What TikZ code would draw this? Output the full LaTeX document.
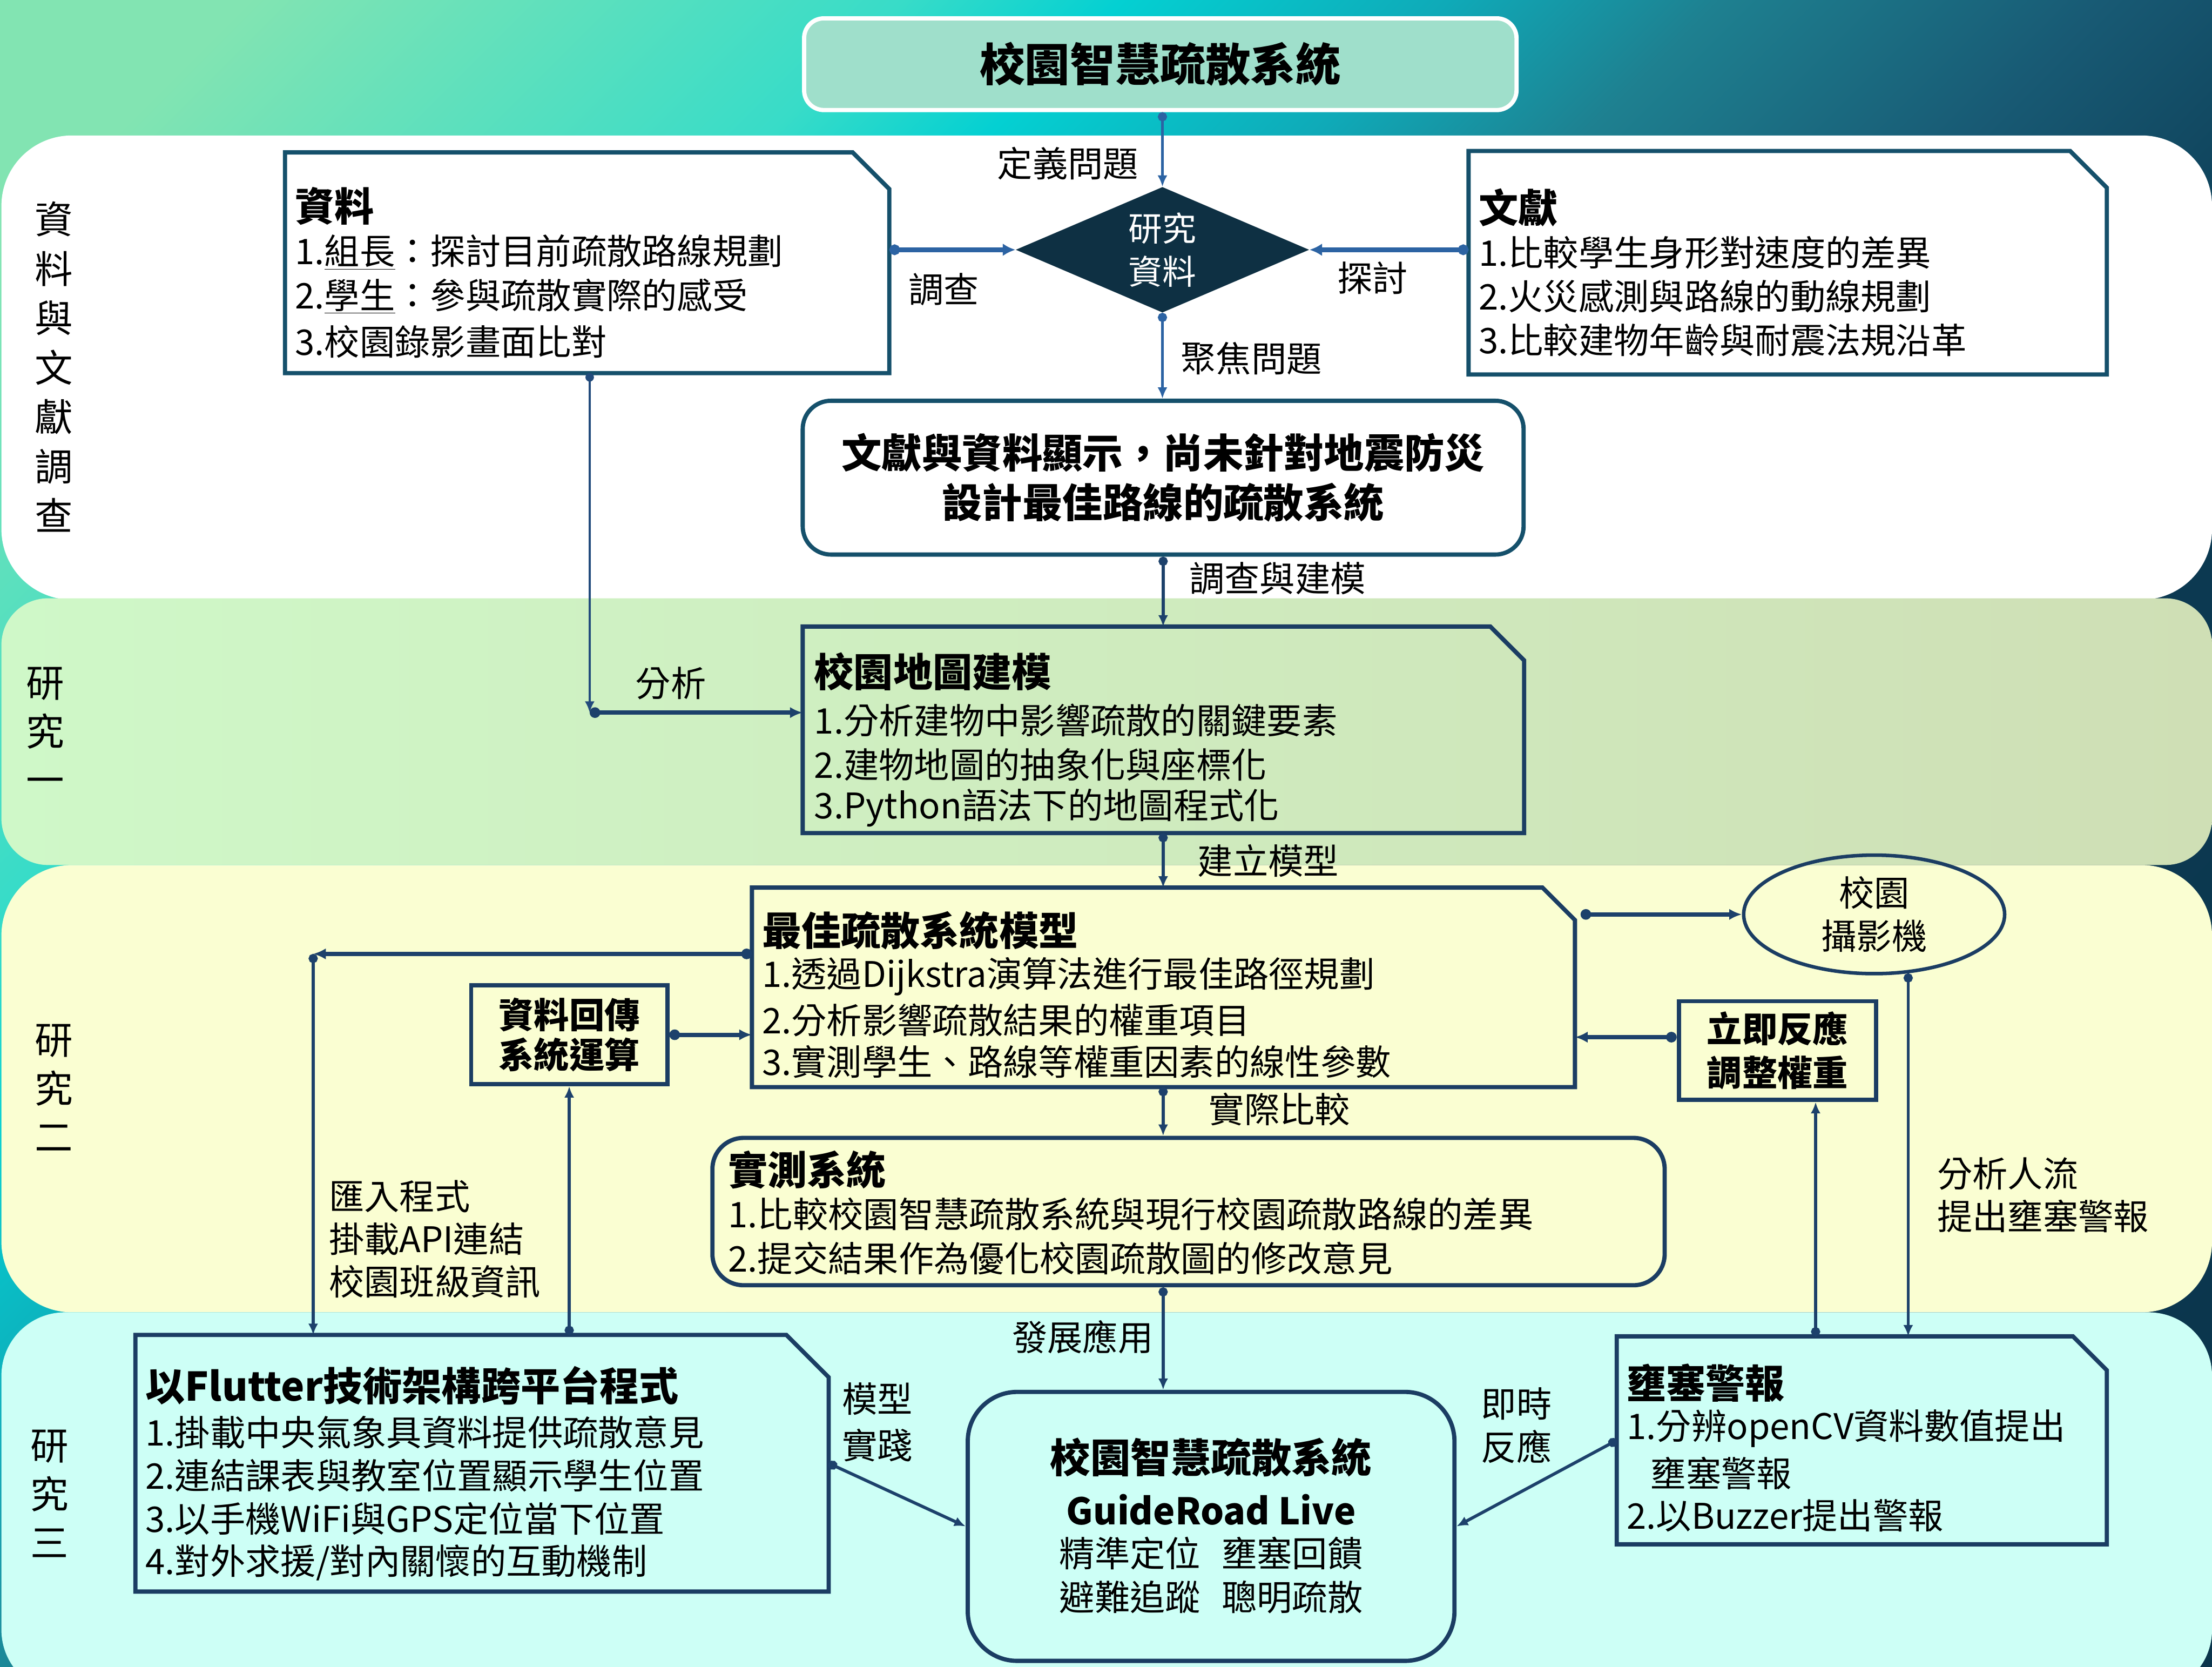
\documentclass[tikz,border=0pt]{standalone}
\usepackage{fontspec}
\setmainfont{Noto Sans CJK TC}
\usetikzlibrary{arrows.meta,shapes.geometric}
\definecolor{bg1}{HTML}{82E4B2}
\definecolor{bg2}{HTML}{38DCC8}
\definecolor{bg3}{HTML}{04D0D2}
\definecolor{bg4}{HTML}{0FAAB8}
\definecolor{bg5}{HTML}{1E8090}
\definecolor{bg6}{HTML}{185A74}
\definecolor{bg7}{HTML}{0C3A52}
\definecolor{bg8}{HTML}{0A3248}
\definecolor{bandtwoL}{HTML}{CFF8C8}
\definecolor{bandtwoR}{HTML}{CFDFB5}
\definecolor{bandthree}{HTML}{FAFED2}
\definecolor{bandfour}{HTML}{CDFFF6}
\definecolor{bcA}{HTML}{15506B}
\definecolor{bcB}{HTML}{1B3D63}
\definecolor{acA}{HTML}{2C63A3}
\definecolor{acB}{HTML}{1D416B}
\definecolor{diafill}{HTML}{0E3043}
\definecolor{titlefill}{HTML}{9FDFCB}
\pgfdeclarehorizontalshading{bgsh}{100bp}{color(0bp)=(bg1); color(19bp)=(bg1); color(31bp)=(bg2); color(35bp)=(bg3); color(41bp)=(bg4); color(46bp)=(bg5); color(53bp)=(bg6); color(61bp)=(bg7); color(100bp)=(bg8)}
\newcommand\myfs[2]{\fontsize{#1pt}{#2pt}\selectfont}
% style, fill, name, x, y, w, h, cut
\newcommand\docbox[8]{%
  \node[inner sep=0pt, minimum width=#6pt, minimum height=#7pt, anchor=north west] (#3) at (#4,#5) {};
  \filldraw[#1, fill=#2] (#3.north west) -- ([xshift=-#8pt]#3.north east) -- ([yshift=-#8pt]#3.north east) -- (#3.south east) -- (#3.south west) -- cycle;}
\tikzset{
  docA/.style={draw=bcA, line width=3pt, line join=miter},
  docB/.style={draw=bcB, line width=3pt, line join=miter},
  tl/.style={inner sep=0pt, anchor=west, font=\myfs{25}{30}},
  tb/.style={inner sep=0pt, anchor=west, font=\bfseries\myfs{28}{30}},
  lbl/.style={inner sep=0pt, font=\myfs{25}{30.5}, align=center},
  side/.style={inner sep=0pt, font=\myfs{27}{34.5}, align=center},
  connA/.style={draw=acA, line width=2.2pt, {Circle[length=6.5pt,width=6.5pt]}-{Latex[length=8pt,width=7pt]}},
  connAt/.style={draw=acA, line width=3.5pt, {Circle[length=7.5pt,width=7.5pt]}-{Latex[length=9pt,width=9pt]}},
  connB/.style={draw=acB, line width=2.2pt, {Circle[length=6.5pt,width=6.5pt]}-{Latex[length=8pt,width=7pt]}},
  connBt/.style={draw=acB, line width=3pt, {Circle[length=7.5pt,width=7.5pt]}-{Latex[length=9pt,width=8pt]}},
  connC/.style={draw=acB!70!acA, line width=1.6pt, {Circle[length=6pt,width=6pt]}-{Latex[length=8pt,width=7pt]}},
}
\begin{document}
\begin{tikzpicture}[x=1pt,y=-1pt]
\useasboundingbox (0,0) rectangle (1568,1181);
% background
\shade[shading=bgsh, shading angle=-45] (0,0) rectangle (1568,1181);
% bands
\fill[white, rounded corners=50pt] (1,96) rectangle (1568,425);
\shade[left color=bandtwoL, right color=bandtwoR, rounded corners=33pt] (1,424) rectangle (1568,613);
\fill[bandthree, rounded corners=50pt] (1,613) rectangle (1568,930);
\fill[bandfour, rounded corners=45pt] (1,930) rectangle (1568,1200);

% side labels
\node[side, font=\myfs{27}{35}] (s1) at (38,260) {資\\料\\與\\文\\獻\\調\\查};
\node[side] (s2) at (32,518) {研\\究\\一};
\node[side] (s3) at (38,771) {研\\究\\二};
\node[side] (s4) at (35,1058.5) {研\\究\\三};

% title
\node[draw=white, line width=3pt, fill=titlefill, rounded corners=14pt, minimum width=505pt, minimum height=65pt, inner sep=0pt, font=\bfseries\myfs{32}{32}] (title) at (822.5,45.5) {校園智慧疏散系統};

% diamond
\node[diamond, fill=diafill, minimum width=208pt, minimum height=89pt, inner sep=0pt] (dia) at (824,177) {};
\node[lbl, white, font=\myfs{24}{30.5}] (diat) at (824,177) {研究\\資料};

% data box
\docbox{docA}{white}{ziliao}{202}{108}{428}{156}{26}
\node[tb] (zlT) at (209,146) {資料};
\node[tl] (zl1) at (209,179) {1.\underline{組長}：探討目前疏散路線規劃};
\node[tl] (zl2) at (209,210) {2.\underline{學生}：參與疏散實際的感受};
\node[tl] (zl3) at (209,242) {3.校園錄影畫面比對};

% literature box
\docbox{docA}{white}{wenxian}{1041}{107}{452}{158}{26}
\node[tb] (wxT) at (1048,147) {文獻};
\node[tl] (wx1) at (1048,179) {1.比較學生身形對速度的差異};
\node[tl] (wx2) at (1048,210) {2.火災感測與路線的動線規劃};
\node[tl] (wx3) at (1048,241) {3.比較建物年齡與耐震法規沿革};

% big conclusion box
\node[draw=bcA, line width=3pt, fill=white, rounded corners=20pt, minimum width=511pt, minimum height=109pt, inner sep=0pt, align=center, font=\bfseries\myfs{28.5}{35}] (big) at (824.5,338.5) {文獻與資料顯示，尚未針對地震防災\\設計最佳路線的疏散系統};

% map box
\docbox{docB}{none}{map}{569}{444}{511}{146}{24}
\node[tb] (mapT) at (577,476) {校園地圖建模};
\node[tl] (map1) at (577,510.5) {1.分析建物中影響疏散的關鍵要素};
\node[tl] (map2) at (577,541.8) {2.建物地圖的抽象化與座標化};
\node[tl] (map3) at (577,572.5) {3.Python語法下的地圖程式化};

% best model box
\docbox{docB}{none}{best}{533}{629}{583}{141}{23}
\node[tb] (bestT) at (540,659.5) {最佳疏散系統模型};
\node[tl] (best1) at (540,692) {1.透過Dijkstra演算法進行最佳路徑規劃};
\node[tl] (best2) at (540,723) {2.分析影響疏散結果的權重項目};
\node[tl] (best3) at (540,752.5) {3.實測學生、路線等權重因素的線性參數};

% data return box
\node[draw=bcB, line width=3pt, minimum width=139pt, minimum height=70pt, inner sep=0pt, align=center, font=\bfseries\myfs{25}{28}] (hc) at (403.5,733.3) {資料回傳\\系統運算};

% camera
\node[ellipse, draw=bcB, line width=2.5pt, minimum width=185pt, minimum height=84pt, inner sep=0pt, align=center, font=\myfs{25}{30.6}] (cam) at (1328.5,648) {校園\\攝影機};

% immediate response box
\node[draw=bcB, line width=3pt, minimum width=140pt, minimum height=70pt, inner sep=0pt, align=center, font=\bfseries\myfs{25}{30.8}] (lj) at (1260,744.5) {立即反應\\調整權重};

% field test box
\node[draw=bcB, line width=3pt, rounded corners=22pt, minimum width=675pt, minimum height=104.4pt, inner sep=0pt] (sh) at (842.5,858.6) {};
\node[tb] (shT) at (516,829) {實測系統};
\node[tl] (sh1) at (516,860.4) {1.比較校園智慧疏散系統與現行校園疏散路線的差異};
\node[tl] (sh2) at (516,891.7) {2.提交結果作為優化校園疏散圖的修改意見};

% flutter box
\docbox{docB}{none}{flutter}{96}{946}{491}{181.5}{30}
\node[tb] (flT) at (103,982) {以Flutter技術架構跨平台程式};
\node[tl] (fl1) at (103,1015) {1.掛載中央氣象具資料提供疏散意見};
\node[tl] (fl2) at (103,1045.5) {2.連結課表與教室位置顯示學生位置};
\node[tl] (fl3) at (103,1076.4) {3.以手機WiFi與GPS定位當下位置};
\node[tl] (fl4) at (103,1107.3) {4.對外求援/對內關懷的互動機制};

% guideroad box
\node[draw=bcB, line width=3pt, rounded corners=35pt, minimum width=345pt, minimum height=190.6pt, inner sep=0pt] (gr) at (858.5,1081.7) {};
\node[inner sep=0pt, font=\bfseries\myfs{28.5}{30}] (gr1) at (858.5,1033) {校園智慧疏散系統};
\node[inner sep=0pt, font=\bfseries\myfs{26}{30}] (gr2) at (858.5,1070) {GuideRoad Live};
\node[inner sep=0pt, font=\myfs{25}{30}] (gr3) at (858.5,1101) {精準定位\hspace{15pt}壅塞回饋};
\node[inner sep=0pt, font=\myfs{25}{30}] (gr4) at (858.5,1132) {避難追蹤\hspace{15pt}聰明疏散};

% congestion alert box
\docbox{docB}{none}{ys}{1146}{947}{347}{147}{24}
\node[tb] (ysT) at (1153,980) {壅塞警報};
\node[tl] (ys1) at (1153,1012.3) {1.分辨openCV資料數值提出};
\node[tl] (ys2) at (1170,1044.3) {壅塞警報};
\node[tl] (ys3) at (1153,1074) {2.以Buzzer提出警報};

% connector labels
\node[lbl] (l1) at (757,116) {定義問題};
\node[lbl] (l2) at (669,205) {調查};
\node[lbl] (l3) at (973,197) {探討};
\node[lbl] (l4) at (887,254) {聚焦問題};
\node[lbl] (l5) at (905.5,410) {調查與建模};
\node[lbl] (l6) at (475.5,484) {分析};
\node[lbl] (l7) at (899,610) {建立模型};
\node[lbl] (l8) at (907,786) {實際比較};
\node[lbl] (l9) at (767.5,947.5) {發展應用};
\node[lbl, font=\myfs{25}{33}] (l10) at (622,1007.8) {模型\\實踐};
\node[lbl] (l11) at (1075,1010) {即時\\反應};
\node[lbl, anchor=west, align=left, font=\myfs{25}{30.3}] (l12) at (233,878) {匯入程式\\掛載API連結\\校園班級資訊};
\node[lbl, anchor=west, align=left] (l13) at (1373,846.8) {分析人流\\提出壅塞警報};

% coordinates for elbows
\coordinate (k1) at (418,505);
\coordinate (k2) at (222,676);
\coordinate (k3) at ([xshift=27pt]lj.south);
\coordinate (k4) at ([yshift=9.5pt]lj.west);

% connectors
\draw[connA] (dia.north |- title.south) -- (dia.north);
\draw[connAt] (ziliao.east |- dia.west) -- (dia.west);
\draw[connAt] (wenxian.west |- dia.east) -- (dia.east);
\draw[connA] (dia.south) -- (dia.south |- big.north);
\draw[connB] (big.south) -- (big.south |- map.north);
\draw[connC] (ziliao.south -| k1) -- (k1);
\draw[connBt] (k1) -- (map.west |- k1);
\draw[connB] (map.south -| big.south) -- (big.south |- best.north);
\draw[connBt] (best.west |- k2) -- (k2);
\draw[connB] (k2) -- (k2 |- flutter.north);
\draw[connBt] (hc.east) -- (best.west |- hc.east);
\draw[connB] (flutter.north -| hc.south) -- (hc.south);
\draw[connBt] ([xshift=4pt]best.east |- cam.west) -- (cam.west);
\draw[connBt] (k4) -- (best.east |- k4);
\draw[connB] (cam.-60) -- (cam.-60 |- ys.north);
\draw[connB] (ys.north -| k3) -- (k3);
\draw[connB] (best.south -| big.south) -- (big.south |- sh.north);
\draw[connB] (sh.south -| big.south) -- (big.south |- gr.north);
\draw[connB] (flutter.east) -- (gr.west);
\draw[connB] (ys.west) -- (gr.east);
\end{tikzpicture}
\end{document}
